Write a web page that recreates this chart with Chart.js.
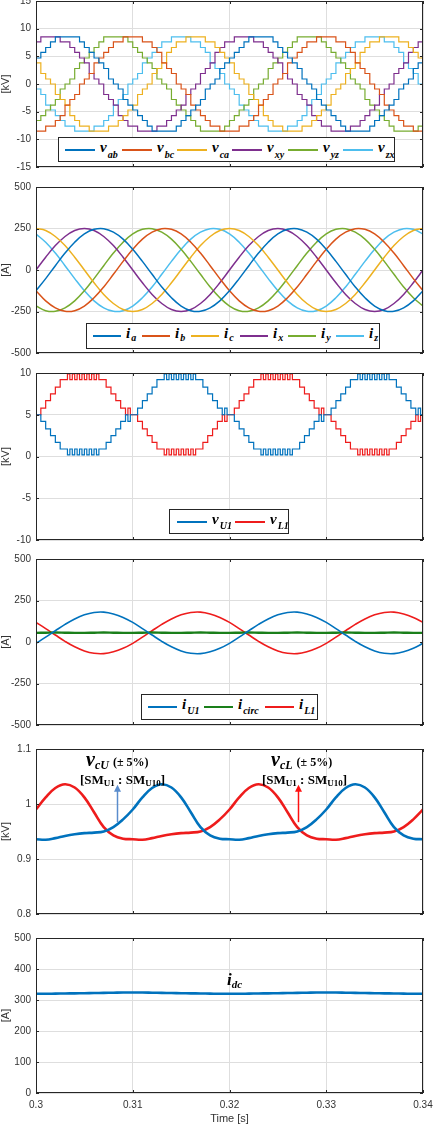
<!DOCTYPE html>
<html>
<head>
<meta charset="utf-8">
<script src="https://cdn.jsdelivr.net/npm/chart.js@4"></script>
<style>
  html, body { margin: 0; padding: 0; background: #fff; }
  #wrap { position: relative; width: 434px; height: 1124px; overflow: hidden; }
  #wrap canvas { position: absolute; left: 0; top: 0; }
  .leg { position: absolute; box-sizing: border-box; border: 1px solid #262626; background: #fff; }
  .ln { position: absolute; height: 2px; }
  .lab { position: absolute; top: 1px; white-space: nowrap; line-height: 15px; }
  .sym { font: italic bold 15px 'Liberation Serif', serif; color: #000; }
  .sub { font: italic bold 10px 'Liberation Serif', serif; color: #000; position: relative; margin-left: 1px; }
  .note { position: absolute; font-family: 'Liberation Serif', serif; font-weight: bold; color: #000;
          white-space: nowrap; line-height: 1; }
  .s2 { font-size: 9px; position: relative; top: 2px; }
</style>
</head>
<body>
<div id="wrap"></div>
<script>
// ---- time axes (s) ----
const t1 = [0.3,0.301,0.302,0.303,0.304,0.305,0.306,0.307,0.308,0.309,0.31,0.311,0.312,0.313,0.314,0.315,0.316,0.317,0.318,0.319,
  0.32,0.321,0.322,0.323,0.324,0.325,0.326,0.327,0.328,0.329,0.33,0.331,0.332,0.333,0.334,0.335,0.336,0.337,0.338,0.339,0.34];
const t05 = [0.3,0.3005,0.301,0.3015,0.302,0.3025,0.303,0.3035,0.304,0.3045,0.305,0.3055,0.306,0.3065,0.307,0.3075,0.308,0.3085,0.309,0.3095,
  0.31,0.3105,0.311,0.3115,0.312,0.3125,0.313,0.3135,0.314,0.3145,0.315,0.3155,0.316,0.3165,0.317,0.3175,0.318,0.3185,0.319,0.3195,
  0.32,0.3205,0.321,0.3215,0.322,0.3225,0.323,0.3235,0.324,0.3245,0.325,0.3255,0.326,0.3265,0.327,0.3275,0.328,0.3285,0.329,0.3295,
  0.33,0.3305,0.331,0.3315,0.332,0.3325,0.333,0.3335,0.334,0.3345,0.335,0.3355,0.336,0.3365,0.337,0.3375,0.338,0.3385,0.339,0.3395,0.34];
const t025 = [0.3,0.30025,0.3005,0.30075,0.301,0.30125,0.3015,0.30175,0.302,0.30225,0.3025,0.30275,0.303,0.30325,0.3035,0.30375,
  0.304,0.30425,0.3045,0.30475,0.305,0.30525,0.3055,0.30575,0.306,0.30625,0.3065,0.30675,0.307,0.30725,0.3075,0.30775,
  0.308,0.30825,0.3085,0.30875,0.309,0.30925,0.3095,0.30975,0.31,0.31025,0.3105,0.31075,0.311,0.31125,0.3115,0.31175,
  0.312,0.31225,0.3125,0.31275,0.313,0.31325,0.3135,0.31375,0.314,0.31425,0.3145,0.31475,0.315,0.31525,0.3155,0.31575,
  0.316,0.31625,0.3165,0.31675,0.317,0.31725,0.3175,0.31775,0.318,0.31825,0.3185,0.31875,0.319,0.31925,0.3195,0.31975,
  0.32,0.32025,0.3205,0.32075,0.321,0.32125,0.3215,0.32175,0.322,0.32225,0.3225,0.32275,0.323,0.32325,0.3235,0.32375,
  0.324,0.32425,0.3245,0.32475,0.325,0.32525,0.3255,0.32575,0.326,0.32625,0.3265,0.32675,0.327,0.32725,0.3275,0.32775,
  0.328,0.32825,0.3285,0.32875,0.329,0.32925,0.3295,0.32975,0.33,0.33025,0.3305,0.33075,0.331,0.33125,0.3315,0.33175,
  0.332,0.33225,0.3325,0.33275,0.333,0.33325,0.3335,0.33375,0.334,0.33425,0.3345,0.33475,0.335,0.33525,0.3355,0.33575,
  0.336,0.33625,0.3365,0.33675,0.337,0.33725,0.3375,0.33775,0.338,0.33825,0.3385,0.33875,0.339,0.33925,0.3395,0.33975,0.34];

// ---- panel 1: line voltages [kV] ----
const vAB = [4.7,5.7,6.6,7.6,8.5,8.5,8.5,8.5,8.5,7.6,6.6,5.7,4.7,3.8,2.8,0.9,0,-0.9,-2.8,-3.8,-4.7,-5.7,-6.6,-7.6,-8.5,-8.5,-8.5,-8.5,-8.5,-7.6,-6.6,-5.7,-4.7,-3.8,-2.8,-0.9,0,0.9,2.8,3.8,
  4.7,5.7,6.6,7.6,8.5,8.5,8.5,8.5,8.5,7.6,6.6,5.7,4.7,3.8,2.8,0.9,0,-0.9,-2.8,-3.8,-4.7,-5.7,-6.6,-7.6,-8.5,-8.5,-8.5,-8.5,-8.5,-7.6,-6.6,-5.7,-4.7,-3.8,-2.8,-0.9,0,0.9,2.8,3.8,4.7];
const vBC = [-8.5,-8.5,-7.6,-7.6,-6.6,-5.7,-3.8,-2.8,-1.9,0,0.9,1.9,3.8,4.7,5.7,6.6,7.6,7.6,8.5,8.5,8.5,8.5,7.6,7.6,6.6,5.7,3.8,2.8,1.9,0,-0.9,-1.9,-3.8,-4.7,-5.7,-6.6,-7.6,-7.6,-8.5,-8.5,
  -8.5,-8.5,-7.6,-7.6,-6.6,-5.7,-3.8,-2.8,-1.9,0,0.9,1.9,3.8,4.7,5.7,6.6,7.6,7.6,8.5,8.5,8.5,8.5,7.6,7.6,6.6,5.7,3.8,2.8,1.9,0,-0.9,-1.9,-3.8,-4.7,-5.7,-6.6,-7.6,-7.6,-8.5,-8.5,-8.5];
const vCA = [3.8,1.9,0.9,0,-1.9,-2.8,-3.8,-5.7,-6.6,-7.6,-7.6,-8.5,-8.5,-8.5,-8.5,-7.6,-7.6,-6.6,-5.7,-4.7,-3.8,-1.9,-0.9,0,1.9,2.8,3.8,5.7,6.6,7.6,7.6,8.5,8.5,8.5,8.5,7.6,7.6,6.6,5.7,4.7,
  3.8,1.9,0.9,0,-1.9,-2.8,-3.8,-5.7,-6.6,-7.6,-7.6,-8.5,-8.5,-8.5,-8.5,-7.6,-7.6,-6.6,-5.7,-4.7,-3.8,-1.9,-0.9,0,1.9,2.8,3.8,5.7,6.6,7.6,7.6,8.5,8.5,8.5,8.5,7.6,7.6,6.6,5.7,4.7,3.8];
const vXY = [7.6,8.5,8.5,8.5,8.5,7.6,7.6,6.6,5.7,4.7,3.8,1.9,0.9,0,-1.9,-2.8,-3.8,-5.7,-6.6,-7.6,-7.6,-8.5,-8.5,-8.5,-8.5,-7.6,-7.6,-6.6,-5.7,-4.7,-3.8,-1.9,-0.9,0,1.9,2.8,3.8,5.7,6.6,7.6,
  7.6,8.5,8.5,8.5,8.5,7.6,7.6,6.6,5.7,4.7,3.8,1.9,0.9,0,-1.9,-2.8,-3.8,-5.7,-6.6,-7.6,-7.6,-8.5,-8.5,-8.5,-8.5,-7.6,-7.6,-6.6,-5.7,-4.7,-3.8,-1.9,-0.9,0,1.9,2.8,3.8,5.7,6.6,7.6,7.6];
const vYZ = [-6.6,-5.7,-4.7,-3.8,-2.8,-0.9,0,0.9,2.8,3.8,4.7,5.7,6.6,7.6,8.5,8.5,8.5,8.5,8.5,7.6,6.6,5.7,4.7,3.8,2.8,0.9,0,-0.9,-2.8,-3.8,-4.7,-5.7,-6.6,-7.6,-8.5,-8.5,-8.5,-8.5,-8.5,-7.6,
  -6.6,-5.7,-4.7,-3.8,-2.8,-0.9,0,0.9,2.8,3.8,4.7,5.7,6.6,7.6,8.5,8.5,8.5,8.5,8.5,7.6,6.6,5.7,4.7,3.8,2.8,0.9,0,-0.9,-2.8,-3.8,-4.7,-5.7,-6.6,-7.6,-8.5,-8.5,-8.5,-8.5,-8.5,-7.6,-6.6];
const vZX = [-0.9,-1.9,-3.8,-4.7,-5.7,-6.6,-7.6,-7.6,-8.5,-8.5,-8.5,-8.5,-7.6,-7.6,-6.6,-5.7,-3.8,-2.8,-1.9,0,0.9,1.9,3.8,4.7,5.7,6.6,7.6,7.6,8.5,8.5,8.5,8.5,7.6,7.6,6.6,5.7,3.8,2.8,1.9,0,
  -0.9,-1.9,-3.8,-4.7,-5.7,-6.6,-7.6,-7.6,-8.5,-8.5,-8.5,-8.5,-7.6,-7.6,-6.6,-5.7,-3.8,-2.8,-1.9,0,0.9,1.9,3.8,4.7,5.7,6.6,7.6,7.6,8.5,8.5,8.5,8.5,7.6,7.6,6.6,5.7,3.8,2.8,1.9,0,-0.9];

// ---- panel 2: phase currents [A] ----
const iA = [-125,-52,26,102,167,217,245,249,228,186,125,52,-26,-102,-167,-217,-245,-249,-228,-186,
  -125,-52,26,102,167,217,245,249,228,186,125,52,-26,-102,-167,-217,-245,-249,-228,-186,-125];
const iB = [-125,-186,-228,-249,-245,-217,-167,-102,-26,52,125,186,228,249,245,217,167,102,26,-52,
  -125,-186,-228,-249,-245,-217,-167,-102,-26,52,125,186,228,249,245,217,167,102,26,-52,-125];
const iC = [250,238,202,147,77,0,-77,-147,-202,-238,-250,-238,-202,-147,-77,0,77,147,202,238,
  250,238,202,147,77,0,-77,-147,-202,-238,-250,-238,-202,-147,-77,0,77,147,202,238,250];
const iX = [0,77,147,202,238,250,238,202,147,77,0,-77,-147,-202,-238,-250,-238,-202,-147,-77,
  0,77,147,202,238,250,238,202,147,77,0,-77,-147,-202,-238,-250,-238,-202,-147,-77,0];
const iY = [-217,-245,-249,-228,-186,-125,-52,26,102,167,217,245,249,228,186,125,52,-26,-102,-167,
  -217,-245,-249,-228,-186,-125,-52,26,102,167,217,245,249,228,186,125,52,-26,-102,-167,-217];
const iZ = [217,167,102,26,-52,-125,-186,-228,-249,-245,-217,-167,-102,-26,52,125,186,228,249,245,
  217,167,102,26,-52,-125,-186,-228,-249,-245,-217,-167,-102,-26,52,125,186,228,249,245,217];

// ---- panel 3: arm voltages [kV] ----
const vU1 = [5,5,4.2,4.2,3.3,3.3,2.5,2.5,1.7,1.7,0.9,0.9,0.9,0.2,0.9,0.2,0.9,0.2,0.9,0.2,0.9,0.2,0.9,0.2,0.9,0.2,0.9,0.9,0.9,1.7,1.7,2.5,2.5,3.3,3.3,4.2,4.2,5,4.2,5,
  5,5,5.8,5.8,6.7,6.7,7.5,7.5,8.3,8.3,9.2,9.2,9.2,9.9,9.2,9.9,9.2,9.9,9.2,9.9,9.2,9.9,9.2,9.9,9.2,9.9,9.2,9.2,9.2,8.3,8.3,7.5,7.5,6.7,6.7,5.8,5.8,5,5.8,5,
  5,5,4.2,4.2,3.3,3.3,2.5,2.5,1.7,1.7,0.9,0.9,0.9,0.2,0.9,0.2,0.9,0.2,0.9,0.2,0.9,0.2,0.9,0.2,0.9,0.2,0.9,0.9,0.9,1.7,1.7,2.5,2.5,3.3,3.3,4.2,4.2,5,4.2,5,
  5,5,5.8,5.8,6.7,6.7,7.5,7.5,8.3,8.3,9.2,9.2,9.2,9.9,9.2,9.9,9.2,9.9,9.2,9.9,9.2,9.9,9.2,9.9,9.2,9.9,9.2,9.2,9.2,8.3,8.3,7.5,7.5,6.7,6.7,5.8,5.8,5,5.8,5,5];
const vL1 = [5,5,5.8,5.8,6.7,6.7,7.5,7.5,8.3,8.3,9.2,9.2,9.2,9.9,9.2,9.9,9.2,9.9,9.2,9.9,9.2,9.9,9.2,9.9,9.2,9.9,9.2,9.2,9.2,8.3,8.3,7.5,7.5,6.7,6.7,5.8,5.8,5,5.8,5,
  5,5,4.2,4.2,3.3,3.3,2.5,2.5,1.7,1.7,0.9,0.9,0.9,0.2,0.9,0.2,0.9,0.2,0.9,0.2,0.9,0.2,0.9,0.2,0.9,0.2,0.9,0.9,0.9,1.7,1.7,2.5,2.5,3.3,3.3,4.2,4.2,5,4.2,5,
  5,5,5.8,5.8,6.7,6.7,7.5,7.5,8.3,8.3,9.2,9.2,9.2,9.9,9.2,9.9,9.2,9.9,9.2,9.9,9.2,9.9,9.2,9.9,9.2,9.9,9.2,9.2,9.2,8.3,8.3,7.5,7.5,6.7,6.7,5.8,5.8,5,5.8,5,
  5,5,4.2,4.2,3.3,3.3,2.5,2.5,1.7,1.7,0.9,0.9,0.9,0.2,0.9,0.2,0.9,0.2,0.9,0.2,0.9,0.2,0.9,0.2,0.9,0.2,0.9,0.9,0.9,1.7,1.7,2.5,2.5,3.3,3.3,4.2,4.2,5,4.2,5,5];

// ---- panel 4: arm currents [A] ----
const iU1 = [-8,29,68,106,139,164,178,180,169,148,118,81,42,4,-29,-54,-68,-70,-59,-38,
  -8,29,68,106,139,164,178,180,169,148,118,81,42,4,-29,-54,-68,-70,-59,-38,-8];
const iCirc = [55,56,57,56,55,55,56,57,56,55,55,56,57,56,55,55,56,57,56,55,
  55,56,57,56,55,55,56,57,56,55,55,56,57,56,55,55,56,57,56,55,55];
const iL1 = [118,81,42,4,-29,-54,-68,-70,-59,-38,-8,29,68,106,139,164,178,180,169,148,
  118,81,42,4,-29,-54,-68,-70,-59,-38,-8,29,68,106,139,164,178,180,169,148,118];

// ---- panel 5: capacitor voltages [kV] ----
const vcU = [0.936,0.935,0.938,0.942,0.945,0.947,0.948,0.950,0.958,0.972,0.990,1.012,1.029,1.036,1.030,1.012,0.985,0.958,0.943,0.937,
  0.936,0.935,0.938,0.942,0.945,0.947,0.948,0.950,0.958,0.972,0.990,1.012,1.029,1.036,1.030,1.012,0.985,0.958,0.943,0.937,0.936];
const vcL = [0.990,1.012,1.029,1.036,1.030,1.012,0.985,0.958,0.943,0.937,0.936,0.935,0.938,0.942,0.945,0.947,0.948,0.950,0.958,0.972,
  0.990,1.012,1.029,1.036,1.030,1.012,0.985,0.958,0.943,0.937,0.936,0.935,0.938,0.942,0.945,0.947,0.948,0.950,0.958,0.972,0.990];

// ---- panel 6: dc current [A] ----
const iDC = [320,320,320.5,321,321.5,322,322.5,323,323.5,324,324,324,323.5,323,322.5,322,321.5,321,320.5,320,
  320,320,320.5,321,321.5,322,322.5,323,323.5,324,324,324,323.5,323,322.5,322,321.5,321,320.5,320,320];

// legends and annotations
const legend1 = ['ab', 'bc', 'ca', 'xy', 'yz', 'zx'];
const legend2 = ['a', 'b', 'c', 'x', 'y', 'z'];
const legend3 = ['U1', 'L1'];
const legend4 = ['U1', 'circ', 'L1'];
const arrowTimes = [0.30835, 0.3271];
const arrowBase = 0.967, arrowTip = 1.035;

const matlab = ['#0072BD', '#D95319', '#EDB120', '#7E2F8E', '#77AC30', '#4DBEEE'];
const RED = '#ee1c1c';
const GREEN = '#1a7f1a';
const W = 434, H = 1124;
const sans = "'Liberation Sans', Arial, sans-serif";
const wrap = document.getElementById('wrap');
const fmt = v => String(Number(v.toFixed(2)));

// full box around the plot area plus small inward ticks
const boxPlugin = {
  id: 'box',
  afterDatasetsDraw(chart) {
    const { ctx, chartArea: a, scales } = chart;
    ctx.save();
    ctx.strokeStyle = '#262626';
    ctx.lineWidth = 1;
    ctx.strokeRect(a.left + 0.5, a.top + 0.5, a.width - 1, a.height - 1);
    ctx.beginPath();
    scales.x.ticks.forEach(t => {
      const x = Math.round(scales.x.getPixelForValue(t.value)) + 0.5;
      ctx.moveTo(x, a.bottom); ctx.lineTo(x, a.bottom - 3);
      ctx.moveTo(x, a.top); ctx.lineTo(x, a.top + 3);
    });
    scales.y.ticks.forEach(t => {
      const y = Math.round(scales.y.getPixelForValue(t.value)) + 0.5;
      ctx.moveTo(a.left, y); ctx.lineTo(a.left + 3, y);
      ctx.moveTo(a.right, y); ctx.lineTo(a.right - 3, y);
    });
    ctx.stroke();
    ctx.restore();
  }
};

const arrowPlugin = {
  id: 'arrows',
  afterDatasetsDraw(chart) {
    const { ctx, scales: { x, y } } = chart;
    const cols = ['#5a8ccc', '#ff1010'];
    arrowTimes.forEach((t, i) => {
      const px = Math.round(x.getPixelForValue(t)) + 0.5;
      const y0 = y.getPixelForValue(arrowBase), y1 = y.getPixelForValue(arrowTip);
      ctx.save();
      ctx.strokeStyle = ctx.fillStyle = cols[i];
      ctx.lineWidth = 1.5;
      ctx.beginPath(); ctx.moveTo(px, y0); ctx.lineTo(px, y1 + 5); ctx.stroke();
      ctx.beginPath(); ctx.moveTo(px, y1); ctx.lineTo(px - 3.5, y1 + 7); ctx.lineTo(px + 3.5, y1 + 7); ctx.closePath(); ctx.fill();
      ctx.restore();
    });
  }
};

function panel(p) {
  const cv = document.createElement('canvas');
  cv.width = W; cv.height = H;
  wrap.appendChild(cv);
  return new Chart(cv, {
    type: 'line',
    data: {
      labels: p.time,
      datasets: p.series.map((s, i) => ({
        data: s,
        borderColor: p.colors[i],
        borderWidth: Array.isArray(p.width) ? p.width[i] : p.width,
        pointRadius: 0,
        stepped: p.stepped || false,
        tension: p.tension || 0,
        fill: false
      }))
    },
    options: {
      responsive: false,
      animation: false,
      events: [],
      layout: { padding: { top: p.top, bottom: p.last ? 0 : H - p.bottom, left: 0, right: 11 } },
      plugins: { legend: { display: false }, tooltip: { enabled: false } },
      scales: {
        x: {
          type: 'linear', min: 0.3, max: 0.34,
          ticks: { stepSize: 0.01, display: !!p.last, font: { family: sans, size: 10 }, color: '#333', padding: 6,
                   maxRotation: 0, callback: fmt },
          grid: { color: '#dedede', drawTicks: false },
          border: { display: false },
          title: { display: !!p.last, text: 'Time [s]', font: { family: sans, size: 11, lineHeight: 1 }, color: '#333', padding: 0 },
          afterFit: s => { s.height = p.last ? 31 : 0; s.paddingLeft = 0; s.paddingRight = 0; }
        },
        y: {
          min: p.min, max: p.max,
          ticks: { stepSize: p.step, font: { family: sans, size: 10 }, color: '#333', padding: 5, callback: fmt },
          grid: { color: '#dedede', drawTicks: false },
          border: { display: false },
          title: { display: true, text: p.unit, font: { family: sans, size: 11, lineHeight: 1 }, color: '#333', padding: 0 },
          afterFit: s => { s.width = 36; s.paddingTop = 0; s.paddingBottom = 0; }
        }
      }
    },
    plugins: [boxPlugin].concat(p.extra || [])
  });
}

panel({ time: t05, series: [vAB, vBC, vCA, vXY, vYZ, vZX], colors: matlab, width: 1.2, stepped: true,
        top: 1, bottom: 167, min: -15, max: 15, step: 5, unit: '[kV]' });
panel({ time: t1, series: [iA, iB, iC, iX, iY, iZ], colors: matlab, width: 1.5, tension: 0.4,
        top: 187, bottom: 353, min: -500, max: 500, step: 250, unit: '[A]' });
panel({ time: t025, series: [vU1, vL1], colors: ['#0072BD', RED], width: 1.2, stepped: true,
        top: 373, bottom: 540, min: -10, max: 10, step: 5, unit: '[kV]' });
panel({ time: t1, series: [iU1, iCirc, iL1], colors: ['#0072BD', GREEN, RED], width: [1.6, 2.4, 1.6], tension: 0.4,
        top: 559, bottom: 725, min: -500, max: 500, step: 250, unit: '[A]' });
panel({ time: t1, series: [vcU, vcL], colors: ['#0072BD', RED], width: 2.6, tension: 0.4,
        top: 749, bottom: 914, min: 0.8, max: 1.1, step: 0.1, unit: '[kV]', extra: [arrowPlugin] });
panel({ time: t1, series: [iDC], colors: ['#0072BD'], width: 2.6, tension: 0.4,
        top: 938, bottom: 1093, min: 0, max: 500, step: 100, unit: '[A]', last: true });

// MATLAB-style legend boxes: entries placed at the sample line offsets inside the box
function legend(box, sym, subs, colors, lineX, lineW, subDrop) {
  const d = document.createElement('div');
  d.className = 'leg';
  Object.assign(d.style, { left: box[0] + 'px', top: box[1] + 'px', width: box[2] + 'px', height: box[3] + 'px' });
  const mid = Math.round((box[3] - 2) / 2) - 1;
  subs.forEach((s, i) => {
    const ln = document.createElement('span');
    ln.className = 'ln';
    Object.assign(ln.style, { left: lineX[i] + 'px', top: mid + 'px', width: lineW + 'px', background: colors[i] });
    d.appendChild(ln);
    const lb = document.createElement('span');
    lb.className = 'lab';
    lb.style.left = (lineX[i] + lineW + 5) + 'px';
    lb.innerHTML = '<span class="sym">' + sym + '</span><span class="sub" style="top:' + subDrop + 'px">' + s + '</span>';
    d.appendChild(lb);
  });
  wrap.appendChild(d);
}
legend([58, 137, 337, 25], 'v', legend1, matlab, [6, 63, 118, 173, 229, 284], 30, 6);
legend([86, 323, 294, 26], 'i', legend2, matlab, [6, 55, 104, 153, 201, 249], 28, 3);
legend([169, 509, 120, 25], 'v', legend3, ['#0072BD', RED], [7, 65], 30, 5);
legend([141, 694, 177, 26], 'i', legend4, ['#0072BD', GREEN, RED], [6, 62, 123], 29, 5);

// text annotations
function note(x, y, html) {
  const d = document.createElement('div');
  d.className = 'note';
  d.style.left = x + 'px';
  d.style.top = y + 'px';
  d.innerHTML = html;
  wrap.appendChild(d);
}
const vTag = s => '<span style="font-style:italic;font-size:20px">v</span><span style="font-style:italic;font-size:12px;position:relative;top:3px">' + s +
  '</span> <span style="font-size:12px">(± 5%)</span>';
const smTag = '<span style="font-size:13px">[SM<span class="s2">U1</span> : SM<span class="s2">U10</span>]</span>';
note(86, 749, vTag('cU'));
note(80, 771, smTag);
note(271, 749, vTag('cL'));
note(262, 771, smTag);
note(227, 971, '<span style="font-style:italic;font-size:17px">i</span><span style="font-style:italic;font-size:11px;position:relative;top:3px">dc</span>');
</script>
</body>
</html>
